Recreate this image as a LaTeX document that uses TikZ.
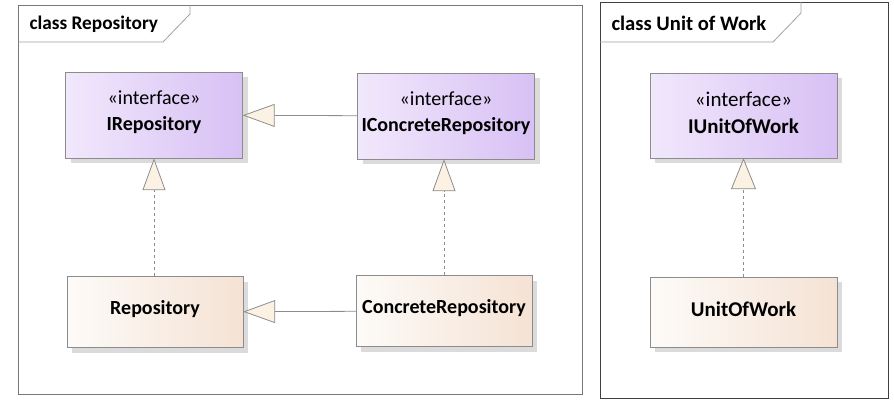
\documentclass[tikz,border=0pt]{standalone}
\usepackage{fontspec}
\setmainfont{Carlito}
\usetikzlibrary{arrows.meta,positioning,shadows}
\definecolor{FrameGray}{HTML}{777777}
\definecolor{LineGray}{HTML}{8C8C8C}
\definecolor{IfaceL}{HTML}{F1E8FC}
\definecolor{IfaceR}{HTML}{D8C0F4}
\definecolor{ClassL}{HTML}{FDFBF8}
\definecolor{ClassR}{HTML}{F5E2D4}
\definecolor{TipCream}{HTML}{FBF2E3}

\begin{document}
\begin{tikzpicture}[x=1pt,y=-1pt,font=\fontsize{20}{24}\selectfont,
    frame/.style={draw=FrameGray,line width=0.9pt},
    tab/.style={draw=FrameGray!70,line width=0.8pt},
    ifacebox/.style={draw=LineGray,left color=IfaceL,right color=IfaceR,
      minimum width=177pt,minimum height=86pt,align=center,inner sep=0pt,
      text height=40pt,text depth=10pt,
      drop shadow={shadow xshift=5pt,shadow yshift=-5pt,fill=black!14,opacity=1}},
    classbox/.style={draw=LineGray,left color=ClassL,right color=ClassR,
      minimum width=176pt,minimum height=71pt,align=center,inner sep=0pt,
      text height=15pt,text depth=10pt,font=\fontsize{20}{24}\selectfont\bfseries,
      drop shadow={shadow xshift=5pt,shadow yshift=-5pt,fill=black!14,opacity=1}},
    bigger/.style={minimum width=187pt,font=\fontsize{21}{25}\selectfont},
    gen/.style={draw=LineGray,line width=0.8pt,
      -{Triangle[length=32pt,width=23pt,fill=TipCream]}},
    real/.style={gen,dash pattern=on 3pt off 3pt}]
  \useasboundingbox (0,0) rectangle (894,405);

  % frames
  \draw[frame] (18,5) rectangle (582,394);
  \draw[tab] (18,42) -- (163,42) -- (190,14) -- (190,5);
  \node[anchor=west,font=\fontsize{19.3}{23}\selectfont\bfseries] (repotitle) at (26,24) {class Repository};
  \draw[frame,draw=black!75] (600,2) rectangle (888,398);
  \draw[tab] (600,42) -- (773,42) -- (801,13) -- (801,2);
  \node[anchor=west,font=\fontsize{20.6}{25}\selectfont\bfseries] (uowtitle) at (608,23) {class Unit of Work};

  % interfaces
  \node[ifacebox] (irepo) at (154,115) {«interface»\\[2pt]\textbf{IRepository}};
  \node[ifacebox] (iconcrete) at (446,116) {«interface»\\[2pt]\textbf{IConcreteRepository}};
  \node[ifacebox,bigger,minimum height=85pt,text depth=4pt] (iuow) at (743.5,115.5) {«interface»\\[2pt]\textbf{IUnitOfWork}};

  % classes
  \node[classbox] (repo) at (155,312) {Repository};
  \node[classbox] (concrete) at (444,311) {ConcreteRepository};
  \node[classbox,bigger,minimum height=70pt,text depth=6pt,font=\fontsize{21}{25}\selectfont\bfseries] (uow) at (743.5,312) {UnitOfWork};

  % relations
  \draw[gen] (iconcrete) -- (irepo);
  \draw[gen] (concrete) -- (repo);
  \draw[real] (repo.north -| irepo.south) -- (irepo.south);
  \draw[real] (concrete.north) -- (concrete.north |- iconcrete.south);
  \draw[real,-{Triangle[length=31pt,width=25pt,fill=TipCream]}] (uow) -- (iuow);
\end{tikzpicture}
\end{document}
